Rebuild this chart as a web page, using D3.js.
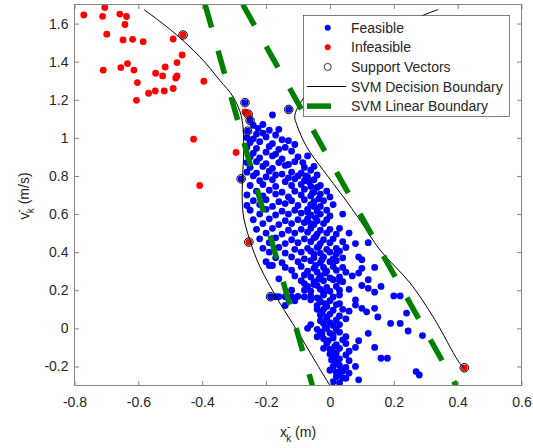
<!DOCTYPE html>
<html>
<head>
<meta charset="utf-8">
<script src="https://cdn.jsdelivr.net/npm/d3@7"></script>
<style>
  body { margin: 0; background: #fff; }
  svg text { font-family: "Liberation Sans", Arial, Helvetica, sans-serif; fill: #262626; }
</style>
</head>
<body>
<svg id="chart" width="533" height="448"></svg>
<script>
//// data
var xTicks = [-0.8, -0.6, -0.4, -0.2, 0, 0.2, 0.4, 0.6];
var yTicks = [-0.2, 0, 0.2, 0.4, 0.6, 0.8, 1, 1.2, 1.4, 1.6];

var legendLabels = ["Feasible", "Infeasible", "Support Vectors", "SVM Decision Boundary", "SVM Linear Boundary"];

// infeasible (red) samples
var infeasible = [
  [-0.771,1.645],[-0.705,1.684],[-0.712,1.638],[-0.658,1.650],[-0.637,1.637],[-0.642,1.595],
  [-0.699,1.544],[-0.648,1.514],[-0.618,1.517],[-0.585,1.505],[-0.491,1.519],[-0.460,1.540],
  [-0.463,1.435],[-0.479,1.395],[-0.516,1.372],[-0.546,1.339],[-0.524,1.325],[-0.479,1.325],
  [-0.483,1.314],[-0.710,1.355],[-0.655,1.369],[-0.634,1.390],[-0.614,1.356],[-0.603,1.290],
  [-0.568,1.234],[-0.547,1.246],[-0.519,1.246],[-0.491,1.259],[-0.395,1.297],[-0.606,1.197],
  [-0.427,0.993],[-0.294,0.923],[-0.408,0.750],[-0.266,1.136],[-0.256,1.124],[-0.254,0.453],
  [0.421,-0.207]
];

// feasible (blue) samples
var feasible = [
  [-0.266,1.185],[-0.25,1.091],[-0.258,1.035],[-0.278,0.785],[-0.129,1.149],[-0.186,0.166],
  [-0.18,1.12],[-0.24,1.065],[-0.225,1.05],[-0.21,1.07],[-0.19,1.04],[-0.16,1.045],
  [-0.23,1.02],[-0.21,1.025],[-0.17,1.015],[-0.26,1.0],[-0.24,0.995],[-0.2,1.005],[-0.15,0.99],
  [-0.25,0.975],[-0.22,0.98],[-0.18,0.97],[-0.13,0.985],[-0.11,0.965],
  [-0.26,0.95],[-0.23,0.945],[-0.19,0.955],[-0.16,0.94],[-0.14,0.95],
  [-0.24,0.92],[-0.2,0.925],[-0.17,0.915],[-0.12,0.93],
  [-0.25,0.9],[-0.22,0.895],[-0.18,0.905],[-0.15,0.89],[-0.1,0.9],[-0.07,0.905],
  [-0.26,0.87],[-0.23,0.875],[-0.2,0.865],[-0.16,0.87],[-0.13,0.86],[-0.11,0.875],
  [-0.25,0.845],[-0.21,0.85],[-0.18,0.84],[-0.14,0.855],[-0.08,0.845],[-0.05,0.85],
  [-0.26,0.82],[-0.23,0.815],[-0.19,0.825],[-0.15,0.81],[-0.12,0.82],[-0.09,0.815],
  [-0.24,0.8],[-0.2,0.795],[-0.17,0.805],[-0.13,0.79],[-0.1,0.8],[-0.07,0.795],[-0.04,0.805],
  [-0.22,0.775],[-0.18,0.78],[-0.14,0.77],[-0.11,0.785],[-0.08,0.775],[-0.05,0.78],
  [-0.25,0.75],[-0.21,0.755],[-0.17,0.745],[-0.12,0.75],[-0.09,0.755],[-0.06,0.745],[-0.03,0.75],
  [-0.23,0.72],[-0.19,0.725],[-0.15,0.715],[-0.11,0.72],[-0.08,0.73],[-0.05,0.715],[-0.01,0.72],
  [-0.26,0.7],[-0.21,0.695],[-0.17,0.705],[-0.13,0.69],[-0.09,0.7],[-0.06,0.695],[-0.03,0.705],[0.0,0.69],
  [-0.24,0.67],[-0.2,0.675],[-0.16,0.665],[-0.12,0.67],[-0.08,0.675],[-0.05,0.665],[-0.02,0.67],
  [-0.26,0.645],[-0.22,0.65],[-0.18,0.64],[-0.14,0.655],[-0.1,0.645],[-0.06,0.65],[-0.03,0.64],[0.01,0.65],
  [-0.25,0.62],[-0.2,0.625],[-0.15,0.615],[-0.11,0.62],[-0.07,0.625],[-0.04,0.615],[-0.01,0.62],
  [-0.22,0.6],[-0.17,0.595],[-0.13,0.6],[-0.09,0.605],[-0.06,0.595],[-0.03,0.6],[0.0,0.59],[0.04,0.6],
  [-0.24,0.57],[-0.19,0.575],[-0.14,0.565],[-0.1,0.57],[-0.07,0.575],[-0.04,0.565],[-0.01,0.57],
  [-0.21,0.55],[-0.16,0.545],[-0.12,0.55],[-0.08,0.555],[-0.05,0.545],[-0.02,0.55],
  [-0.23,0.52],[-0.18,0.525],[-0.13,0.515],[-0.09,0.52],[-0.06,0.525],[-0.03,0.515],[0.0,0.52],[0.03,0.525],
  [-0.2,0.5],[-0.15,0.495],[-0.11,0.5],[-0.07,0.505],[-0.04,0.495],[-0.01,0.5],[0.02,0.495],[0.06,0.5],
  [-0.22,0.47],[-0.17,0.475],[-0.12,0.465],[-0.08,0.47],[-0.05,0.475],[-0.02,0.465],[0.01,0.47],
  [-0.19,0.45],[-0.14,0.445],[-0.1,0.45],[-0.06,0.455],[-0.03,0.445],[0.0,0.45],[0.04,0.455],[0.08,0.445],[0.12,0.45],
  [-0.21,0.42],[-0.16,0.425],[-0.11,0.415],[-0.07,0.42],[-0.04,0.425],[-0.01,0.415],[0.02,0.42],[0.05,0.425],
  [-0.19,0.4],[-0.14,0.395],[-0.09,0.4],[-0.06,0.405],[-0.03,0.395],[0.0,0.4],[0.03,0.405],[0.02,0.39],
  [-0.17,0.37],[-0.12,0.375],[-0.08,0.365],[-0.05,0.37],[-0.02,0.375],[0.01,0.365],[0.04,0.37],[0.09,0.375],
  [-0.2,0.35],[-0.15,0.345],[-0.1,0.35],[-0.06,0.355],[-0.03,0.345],[0.0,0.35],[0.02,0.355],[0.1,0.36],
  [-0.19,0.33],[-0.18,0.33],[-0.14,0.32],[-0.09,0.325],[-0.05,0.315],[-0.02,0.32],[0.01,0.325],[0.04,0.32],[0.1,0.315],[0.14,0.32],
  [-0.12,0.305],[-0.07,0.3],[-0.04,0.295],[-0.01,0.3],[0.02,0.305],[0.05,0.295],
  [-0.16,0.26],[-0.11,0.275],[-0.08,0.28],[-0.06,0.27],[-0.03,0.275],[0.0,0.265],[0.03,0.27],[0.07,0.275],[0.09,0.29],[0.12,0.255],
  [-0.09,0.25],[-0.05,0.245],[-0.02,0.25],[0.01,0.255],[0.04,0.245],[0.03,0.25],
  [-0.08,0.235],[-0.07,0.22],[-0.04,0.225],[-0.01,0.215],[0.02,0.22],[0.1,0.225],[0.12,0.21],[0.16,0.22],
  [-0.12,0.2],[-0.08,0.2],[-0.06,0.195],[-0.03,0.205],[0.0,0.195],[0.03,0.2],[0.06,0.205],[0.14,0.19],
  [-0.17,0.166],[-0.16,0.166],[-0.14,0.166],[-0.12,0.166],[-0.1,0.168],[-0.08,0.165],[-0.06,0.17],[-0.04,0.16],[-0.02,0.175],[0.01,0.165],[0.03,0.175],[0.2,0.17],[0.22,0.17],
  [-0.14,0.12],[-0.11,0.145],[-0.06,0.15],[-0.03,0.14],[0.0,0.145],[0.08,0.15],
  [-0.04,0.12],[-0.01,0.115],[0.02,0.125],[0.08,0.122],[0.1,0.105],[0.14,0.105],[0.03,0.13],
  [-0.02,0.1],[0.01,0.095],[0.04,0.1],[0.06,0.09],[0.115,0.087],
  [-0.03,0.07],[0.0,0.075],[0.03,0.065],[0.15,0.06],[0.24,0.08],
  [-0.01,0.05],[0.02,0.045],[0.05,0.05],
  [-0.06,0.02],[-0.02,0.025],[0.01,0.015],[0.03,0.02],[0.19,0.026],[0.22,0.026],
  [-0.07,0.0],[-0.04,-0.005],[-0.01,0.0],[0.02,-0.005],[0.12,-0.026],[0.245,-0.014],
  [-0.04,-0.044],[-0.03,-0.02],[0.0,-0.025],[0.03,-0.02],[0.05,-0.044],[0.29,-0.038],
  [-0.02,-0.055],[0.01,-0.05],[0.04,-0.06],[0.09,-0.065],
  [-0.01,-0.08],[0.02,-0.085],[0.05,-0.08],[0.08,-0.1],[0.14,-0.1],
  [-0.02,-0.105],[0.0,-0.11],[0.03,-0.105],[0.06,-0.12],
  [0.0,-0.135],[0.02,-0.13],[0.05,-0.14],
  [0.005,-0.166],[0.03,-0.16],[0.06,-0.17],[0.16,-0.157],[0.18,-0.157],
  [0.01,-0.2],[0.03,-0.195],[0.05,-0.205],[0.08,-0.2],
  [0.02,-0.23],[0.04,-0.225],[0.06,-0.235],[0.27,-0.227],[0.28,-0.245],
  [0.02,-0.253],[0.05,-0.262],[0.09,-0.27],[0.04,-0.26],
  [0.01,-0.28],[0.03,-0.285],
  // dense spine
  [-0.045,0.48],[-0.035,0.43],[-0.05,0.39],[-0.025,0.36],[-0.045,0.33],[-0.015,0.29],
  [-0.035,0.26],[-0.05,0.23],[-0.02,0.19],[-0.035,0.155],[-0.015,0.13],[-0.04,0.1],
  [-0.025,0.085],[-0.01,0.06],[-0.03,0.04],[0.0,0.03],[-0.015,0.0],[-0.025,-0.03],
  [0.01,-0.035],[-0.005,-0.065],[0.015,-0.095],[0.005,-0.12],[0.015,-0.15],[0.02,-0.18],
  [0.035,-0.215],[0.0,-0.22],[0.03,-0.245],[-0.06,0.55],[-0.045,0.58],[-0.07,0.61],
  [-0.05,0.64],[-0.035,0.68],[-0.055,0.71],[-0.04,0.74],[-0.065,0.77],[-0.075,0.8],
  [-0.06,0.83],[-0.085,0.87]
];

// support vectors
var supportVectors = [
  [-0.460,1.540],[-0.256,1.124],[-0.254,0.453],[0.421,-0.207],
  [-0.266,1.185],[-0.25,1.091],[-0.258,1.035],[-0.278,0.785],[-0.129,1.149],[-0.186,0.166]
];

// nonlinear decision boundary (two branches)
var boundaryLeft = [
  [-0.582,1.673],[-0.491,1.556],[-0.407,1.425],[-0.345,1.302],[-0.303,1.215],[-0.277,1.110],
  [-0.270,0.935],[-0.274,0.778],[-0.272,0.603],[-0.251,0.463],[-0.219,0.323],[-0.156,0.131],
  [-0.104,-0.009],[-0.042,-0.184],[0.0,-0.3]
];
var boundaryRight = [
  [0.339,1.673],[0.292,1.643],[0.094,1.46],[-0.063,1.25],[-0.110,1.118],[-0.103,1.066],
  [-0.073,0.953],[-0.021,0.83],[0.042,0.69],[0.094,0.568],[0.157,0.411],[0.251,0.238],
  [0.323,0.061],[0.407,-0.184],[0.421,-0.207]
];

// linear boundary (two margin lines)
var linearLeft = [[-0.391,1.7],[-0.055,-0.3]];
var linearRight = [[-0.273,1.7],[0.395,-0.3]];

//// layout
var svg = d3.select("svg#chart");
var green = "#008000";

var x = d3.scaleLinear().domain([-0.8, 0.6]).range([74.5, 521.5]);
var y = d3.scaleLinear().domain([-0.3, 1.7]).range([385.5, 4.5]);

var fmt = function(d) { return String(+d.toFixed(1)); };

svg.append("clipPath").attr("id", "plotClip")
   .append("rect")
   .attr("x", x.range()[0]).attr("y", y.range()[1])
   .attr("width", x.range()[1] - x.range()[0])
   .attr("height", y.range()[0] - y.range()[1]);

var plot = svg.append("g").attr("clip-path", "url(#plotClip)");

// points
plot.selectAll("circle.feasible")
    .data(feasible)
    .enter().append("circle")
    .attr("class", "feasible")
    .attr("cx", function(d) { return x(d[0]); })
    .attr("cy", function(d) { return y(d[1]); })
    .attr("r", 3.4)
    .attr("fill", "#0000ff");

plot.selectAll("circle.infeasible")
    .data(infeasible)
    .enter().append("circle")
    .attr("class", "infeasible")
    .attr("cx", function(d) { return x(d[0]); })
    .attr("cy", function(d) { return y(d[1]); })
    .attr("r", 3.4)
    .attr("fill", "#ff0000");

plot.selectAll("circle.sv")
    .data(supportVectors)
    .enter().append("circle")
    .attr("class", "sv")
    .attr("cx", function(d) { return x(d[0]); })
    .attr("cy", function(d) { return y(d[1]); })
    .attr("r", 4.3)
    .attr("fill", "none")
    .attr("stroke", "#000")
    .attr("stroke-width", 1);

// boundaries
var line = d3.line()
    .x(function(d) { return x(d[0]); })
    .y(function(d) { return y(d[1]); });
var smooth = d3.line()
    .x(function(d) { return x(d[0]); })
    .y(function(d) { return y(d[1]); })
    .curve(d3.curveCatmullRom);

plot.selectAll("path.boundary")
    .data([boundaryLeft, boundaryRight])
    .enter().append("path")
    .attr("class", "boundary")
    .attr("d", smooth)
    .attr("fill", "none")
    .attr("stroke", "#000")
    .attr("stroke-width", 1);

plot.selectAll("path.linear")
    .data([linearLeft, linearRight])
    .enter().append("path")
    .attr("class", "linear")
    .attr("d", line)
    .attr("fill", "none")
    .attr("stroke", green)
    .attr("stroke-width", 5.5)
    .attr("stroke-dasharray", "24,24");

// axes box with inward ticks
var tickLen = 4.5;
var axisColor = "#858585";

function styleAxis(g) {
  g.select(".domain").remove();
  g.selectAll(".tick line").attr("stroke", axisColor);
  g.selectAll(".tick text").attr("fill", "#262626").style("font-size", "14px")
   .attr("font-family", "Liberation Sans, Arial, sans-serif");
}

svg.append("g")
   .attr("transform", "translate(0," + y.range()[0] + ")")
   .call(d3.axisBottom(x).tickValues(xTicks).tickFormat(fmt).tickSize(-tickLen).tickPadding(12))
   .call(styleAxis);
svg.append("g")
   .attr("transform", "translate(0," + y.range()[1] + ")")
   .call(d3.axisTop(x).tickValues(xTicks).tickFormat("").tickSize(-tickLen))
   .call(styleAxis);
svg.append("g")
   .attr("transform", "translate(" + x.range()[0] + ",0)")
   .call(d3.axisLeft(y).tickValues(yTicks).tickFormat(fmt).tickSize(-tickLen).tickPadding(6))
   .call(styleAxis);
svg.append("g")
   .attr("transform", "translate(" + x.range()[1] + ",0)")
   .call(d3.axisRight(y).tickValues(yTicks).tickFormat("").tickSize(-tickLen))
   .call(styleAxis);

svg.append("rect")
   .attr("x", x.range()[0]).attr("y", y.range()[1])
   .attr("width", x.range()[1] - x.range()[0])
   .attr("height", y.range()[0] - y.range()[1])
   .attr("fill", "none")
   .attr("stroke", axisColor)
   .attr("stroke-width", 1);

// axis labels
var xl = svg.append("text")
   .attr("x", 298).attr("y", 437)
   .attr("text-anchor", "middle")
   .style("font-size", "14px");
xl.append("tspan").text("x");
xl.append("tspan").attr("dy", -7).style("font-size", "10px").text("-");
xl.append("tspan").attr("dx", -4).attr("dy", 12).style("font-size", "10px").text("k");
xl.append("tspan").attr("dy", -5).text(" (m)");

var yl = svg.append("text")
   .attr("transform", "translate(29,196) rotate(-90)")
   .attr("text-anchor", "middle")
   .style("font-size", "14px");
yl.append("tspan").text("v");
yl.append("tspan").attr("dy", -7).style("font-size", "10px").text("-");
yl.append("tspan").attr("dx", -4).attr("dy", 12).style("font-size", "10px").text("k");
yl.append("tspan").attr("dy", -5).text(" (m/s)");

// legend
var legend = svg.append("g");
legend.append("rect")
      .attr("x", 303.5).attr("y", 15.5)
      .attr("width", 206).attr("height", 101)
      .attr("fill", "#fff")
      .attr("stroke", "#262626")
      .attr("stroke-width", 0.6);

var rows = legend.selectAll("g.row")
    .data(legendLabels)
    .enter().append("g")
    .attr("class", "row")
    .attr("transform", function(d, i) { return "translate(0," + (27.7 + i * 19.6) + ")"; });

rows.append("text")
    .attr("x", 351).attr("dy", "0.36em")
    .style("font-size", "14px")
    .text(function(d) { return d; });

rows.filter(function(d, i) { return i < 2; })
    .append("circle")
    .attr("cx", 327.7).attr("r", 3)
    .attr("fill", function(d, i) { return i === 0 ? "#0000ff" : "#ff0000"; });

rows.filter(function(d, i) { return i === 2; })
    .append("circle")
    .attr("cx", 327.7).attr("r", 3.5)
    .attr("fill", "none").attr("stroke", "#000").attr("stroke-width", 0.8);

rows.filter(function(d, i) { return i === 3; })
    .append("line")
    .attr("x1", 307).attr("x2", 346)
    .attr("stroke", "#000").attr("stroke-width", 1);

rows.filter(function(d, i) { return i === 4; })
    .append("line")
    .attr("x1", 307).attr("x2", 346)
    .attr("stroke", green).attr("stroke-width", 5.5)
    .attr("stroke-dasharray", "24,24");
</script>
</body>
</html>
